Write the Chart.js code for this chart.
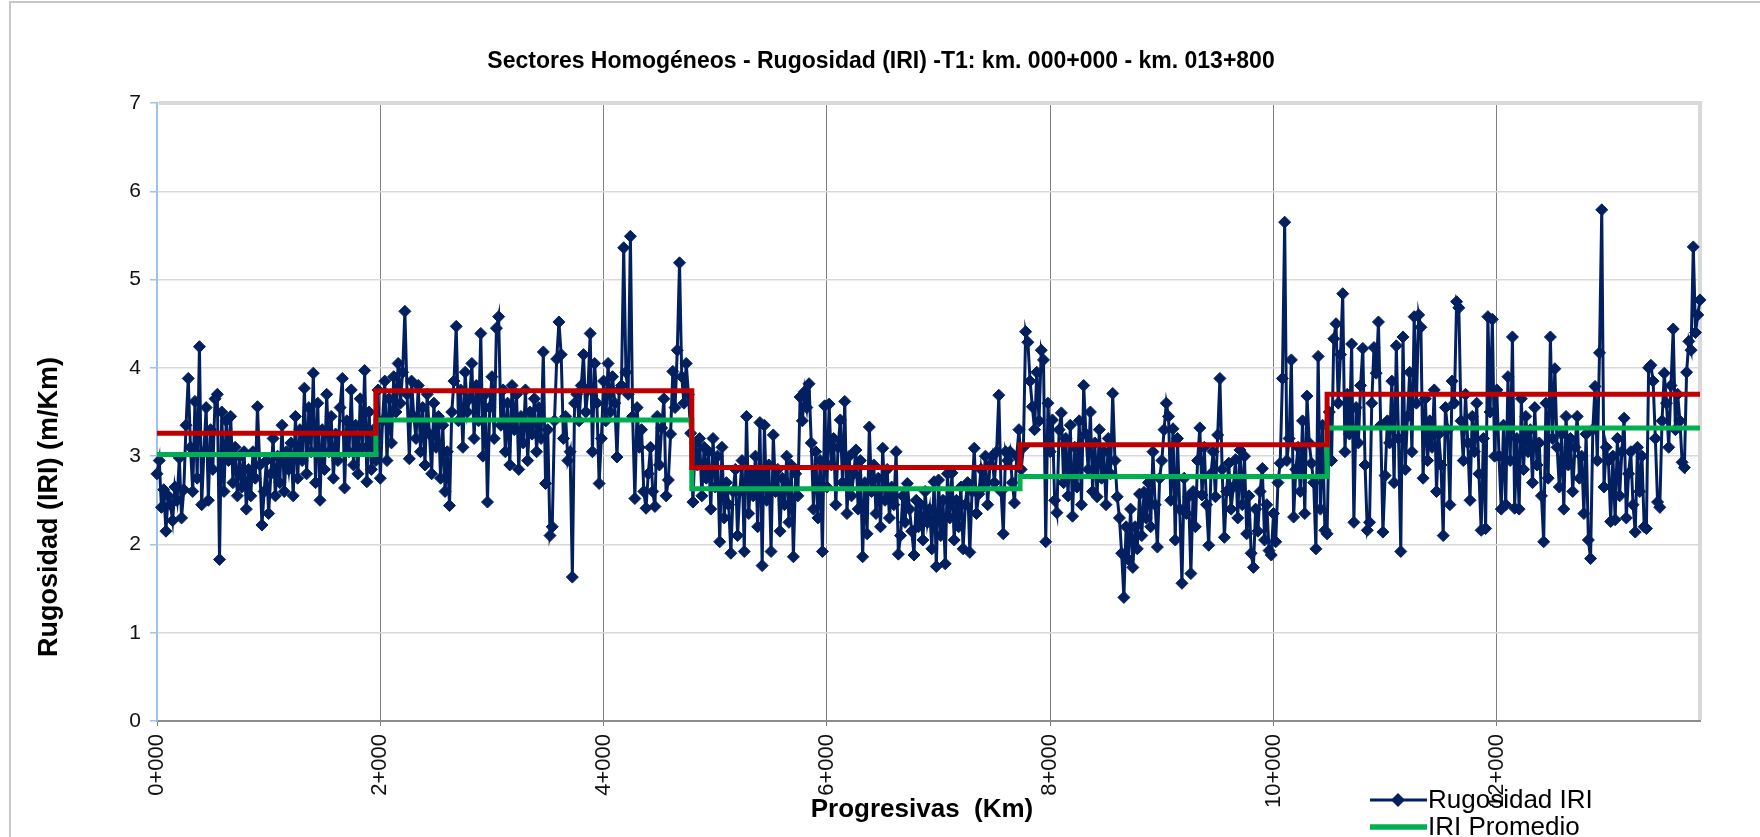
<!DOCTYPE html>
<html>
<head>
<meta charset="utf-8">
<title>Sectores Homogéneos - Rugosidad (IRI)</title>
<script src="https://cdn.jsdelivr.net/npm/chart.js@4.4.1/dist/chart.umd.min.js"></script>
<style>
  html, body { margin: 0; padding: 0; background: #fff; }
  canvas { display: block; }
</style>
</head>
<body>
<canvas id="iriChart" width="1760" height="837"></canvas>
<script>
// Rugosidad IRI (m/Km) cada 20 m, desde km 0+000 hasta 13+820
const iri = [
  2.80, 2.95, 2.42, 2.62, 2.15, 2.55, 2.45, 2.27, 2.65, 2.50,
  2.98, 2.30, 2.62, 3.35, 3.88, 3.10, 2.60, 3.62, 2.75, 4.24,
  2.45, 3.05, 3.55, 2.50, 3.30, 2.85, 3.65, 3.70, 1.83, 3.50,
  2.60, 3.40, 2.95, 3.45, 2.70, 3.10, 2.55, 3.00, 2.65, 3.05,
  2.40, 2.85, 2.55, 3.05, 2.75, 3.56, 2.90, 2.22, 2.60, 2.95,
  2.35, 2.80, 3.20, 2.55, 3.00, 2.70, 3.35, 2.60, 3.05, 2.85,
  3.15, 2.55, 3.45, 2.75, 3.30, 2.95, 3.77, 2.80, 3.55, 3.05,
  3.94, 2.70, 3.60, 2.50, 3.30, 2.85, 3.70, 3.05, 3.45, 2.75,
  3.25, 2.95, 3.55, 3.88, 2.64, 3.40, 3.05, 3.75, 2.90, 3.35,
  2.80, 3.65, 3.10, 3.97, 2.71, 3.50, 2.85, 3.30, 2.95, 3.75,
  2.75, 3.40, 3.85, 2.95, 3.65, 3.15, 3.90, 3.50, 4.05, 3.60,
  3.95, 4.64, 3.70, 2.97, 3.85, 3.45, 3.20, 3.80, 3.05, 3.55,
  2.90, 3.70, 3.25, 2.80, 3.60, 3.10, 3.45, 2.75, 3.35, 2.60,
  3.05, 2.44, 3.50, 3.85, 4.47, 3.40, 3.75, 3.10, 3.95, 3.50,
  3.65, 4.05, 3.20, 3.80, 3.40, 4.39, 3.00, 3.70, 2.48, 3.55,
  3.90, 3.20, 4.45, 4.58, 3.35, 3.75, 3.05, 3.60, 2.90, 3.80,
  3.30, 3.70, 2.85, 3.45, 3.15, 3.75, 2.95, 3.50, 3.25, 3.65,
  3.05, 3.55, 3.20, 4.18, 2.69, 3.30, 2.10, 2.20, 3.40, 4.10,
  4.52, 4.15, 3.20, 3.45, 2.95, 3.05, 1.63, 3.60, 3.70, 3.40,
  3.80, 4.15, 3.50, 3.75, 4.39, 3.05, 4.05, 3.60, 2.69, 3.20,
  3.85, 3.40, 4.05, 3.50, 3.90, 3.60, 2.99, 3.75, 3.80, 5.36,
  3.95, 3.70, 5.49, 3.45, 2.52, 3.55, 3.10, 3.30, 2.60, 2.41,
  2.80, 3.10, 2.60, 2.43, 3.45, 2.90, 3.32, 3.65, 2.55, 2.73,
  3.25, 3.96, 3.55, 4.20, 5.19, 3.90, 3.60, 4.05, 3.70, 3.26,
  2.48, 3.15, 2.90, 3.20, 2.55, 3.10, 2.75, 3.05, 2.40, 3.20,
  2.65, 3.00, 2.03, 3.10, 2.30, 2.70, 2.45, 1.90, 2.60, 2.85,
  2.10, 2.60, 2.95, 1.92, 3.45, 2.35, 2.80, 2.55, 3.00, 2.20,
  3.38, 1.76, 3.35, 2.50, 2.90, 1.92, 3.24, 2.60, 2.85, 2.15,
  2.75, 2.45, 3.00, 2.25, 2.90, 1.86, 2.80, 2.55, 3.67, 3.40,
  3.73, 3.55, 3.82, 3.15, 2.40, 3.05, 2.30, 2.95, 1.92, 3.57,
  2.65, 3.59, 2.90, 3.20, 2.45, 3.10, 3.41, 2.70, 3.62, 2.35,
  3.00, 2.55, 2.80, 3.07, 2.40, 2.95, 1.86, 2.70, 2.12, 3.33,
  2.60, 2.90, 2.35, 2.75, 2.20, 3.09, 2.50, 2.85, 2.30, 2.65,
  2.45, 3.05, 1.89, 2.10, 2.55, 2.25, 2.69, 2.40, 2.15, 1.88,
  2.50, 2.20, 2.45, 2.05, 2.60, 2.25, 2.40, 1.95, 2.71, 1.75,
  2.73, 2.10, 2.50, 1.78, 2.80, 2.30, 2.81, 2.05, 2.50, 2.20,
  2.65, 1.95, 2.45, 2.70, 1.91, 2.60, 3.09, 2.35, 2.57, 2.85,
  2.65, 3.00, 2.45, 2.90, 3.00, 2.70, 3.05, 3.69, 2.60, 2.12,
  3.05, 2.95, 3.05, 2.70, 2.47, 3.00, 3.30, 2.85, 3.10, 4.41,
  4.29, 3.85, 3.56, 3.30, 3.95, 3.40, 4.20, 4.09, 2.03, 3.60,
  3.05, 3.41, 2.50, 2.36, 3.30, 3.49, 2.70, 3.20, 2.55, 3.35,
  2.32, 3.10, 2.65, 3.40, 2.45, 3.80, 3.25, 2.85, 3.50, 2.60,
  3.15, 2.54, 3.30, 2.75, 3.05, 2.45, 3.20, 2.80, 3.71, 2.95,
  2.54, 2.30, 1.90, 1.40, 2.20, 1.83, 2.40, 1.74, 2.20, 1.95,
  2.57, 2.10, 2.59, 2.30, 2.70, 2.20, 3.05, 2.45, 1.97, 2.75,
  2.95, 3.30, 3.60, 3.45, 2.50, 3.31, 2.05, 3.20, 2.40, 1.56,
  2.75, 2.35, 2.54, 1.67, 2.60, 2.20, 2.95, 3.32, 2.56, 3.10,
  2.45, 1.99, 2.80, 3.05, 2.54, 3.24, 3.88, 2.85, 2.08, 2.60,
  2.92, 2.40, 2.65, 2.96, 2.30, 3.07, 2.45, 3.00, 2.12, 2.55,
  1.90, 1.74, 2.40, 2.15, 2.60, 2.86, 2.05, 2.45, 1.93, 1.88,
  2.35, 2.03, 2.70, 2.92, 3.88, 5.65, 2.95, 3.20, 4.09, 2.31,
  2.85, 3.10, 2.60, 3.40, 2.35, 3.68, 3.15, 2.92, 2.70, 1.95,
  4.13, 2.40, 3.35, 2.16, 2.12, 3.50, 2.95, 4.33, 4.50, 3.60,
  4.15, 4.84, 3.05, 3.70, 3.25, 4.27, 2.25, 3.55, 3.15, 3.80,
  4.22, 2.90, 2.16, 2.25, 3.60, 4.23, 3.94, 4.52, 3.35, 2.14,
  2.78, 3.40, 3.15, 3.85, 2.70, 4.25, 3.20, 1.92, 4.35, 2.85,
  3.45, 3.95, 3.05, 4.58, 3.60, 4.60, 4.46, 2.75, 3.65, 2.95,
  3.40, 3.10, 3.75, 2.60, 3.25, 2.90, 2.10, 3.55, 3.30, 2.45,
  3.85, 3.60, 4.75, 4.68, 3.40, 2.95, 3.70, 3.15, 2.50, 3.45,
  3.05, 3.60, 2.80, 2.16, 3.20, 2.18, 4.58, 3.50, 4.55, 3.00,
  3.75, 3.00, 2.40, 3.35, 2.45, 3.90, 2.95, 4.35, 2.41, 3.20,
  2.40, 3.65, 2.85, 3.45, 3.05, 3.30, 2.70, 3.55, 2.90, 3.15,
  2.55, 2.03, 3.60, 2.75, 4.35, 3.20, 3.99, 3.10, 2.65, 3.25,
  2.40, 3.45, 2.90, 3.20, 2.60, 3.10, 3.45, 2.75, 3.00, 2.35,
  3.25, 2.05, 1.84, 3.30, 3.79, 2.95, 4.17, 5.79, 2.65, 3.10,
  2.95, 2.26, 3.00, 2.28, 3.20, 2.55, 3.05, 3.43, 2.30, 2.80,
  3.05, 2.45, 2.14, 3.10, 2.60, 3.00, 2.20, 2.18, 4.00, 4.03,
  3.85, 3.20, 2.48, 2.42, 3.40, 3.94, 3.60, 3.10, 3.80, 4.44,
  3.30, 3.70, 3.40, 2.93, 2.87, 3.95, 4.30, 4.20, 5.37, 4.40,
  4.60, 4.77
];
const pasoKm = 0.02; // una lectura cada 20 m

// Sectores homogeneos (inicio de cada sector en km)
const sectorInicio = [0, 1.96, 4.79, 7.73, 10.48];
const sectorFin = 13.82;
const iriPromedio = [3.02, 3.41, 2.63, 2.77, 3.32];
const iriCaracteristico = [3.26, 3.74, 2.87, 3.13, 3.70];

// Ejes
const xTicksKm = [0, 2, 4, 6, 8, 10, 12];
const yMax = 7;

const FONT = '"Liberation Sans", Arial, sans-serif';
const AZUL = '#022060';

const serieIri = iri.map((v, i) => ({ x: +(i * pasoKm).toFixed(2), y: v }));

function escalones(valores) {
    const pts = sectorInicio.map((x, k) => ({ x: x, y: valores[k] }));
    pts.push({ x: sectorFin, y: valores[valores.length - 1] });
    return pts;
}

function rombo(ctx, x, y, r) {
    ctx.beginPath();
    ctx.moveTo(x, y - r);
    ctx.lineTo(x + r, y);
    ctx.lineTo(x, y + r);
    ctx.lineTo(x - r, y);
    ctx.closePath();
    ctx.fill();
}

// Marco, titulos y leyenda (dibujados a mano para ubicarlos como en Excel)
const marcoYTextos = {
    id: 'marcoYTextos',
    beforeDraw(chart) {
        const { ctx, width, height } = chart;
        ctx.save();
        ctx.fillStyle = '#ffffff';
        ctx.fillRect(0, 0, width, height);
        ctx.strokeStyle = '#c8c8c8';
        ctx.lineWidth = 2;
        ctx.beginPath();
        ctx.moveTo(10, height);
        ctx.lineTo(10, 2);
        ctx.lineTo(width, 2);
        ctx.stroke();
        ctx.restore();
    },
    beforeDatasetsDraw(chart) {
        const { ctx, chartArea: a } = chart;
        ctx.save();
        ctx.strokeStyle = '#d9d9d9';
        ctx.lineWidth = 4;
        ctx.beginPath();
        ctx.moveTo(a.left + 2, a.top);
        ctx.lineTo(a.right, a.top);
        ctx.lineTo(a.right, a.bottom - 1);
        ctx.stroke();
        ctx.restore();
    },
    afterDraw(chart) {
        const ctx = chart.ctx;
        const ds = chart.data.datasets;
        ctx.save();
        ctx.fillStyle = '#000';
        ctx.textBaseline = 'middle';

        // titulo
        ctx.textAlign = 'center';
        ctx.font = 'bold 23px ' + FONT;
        ctx.fillText('Sectores Homogéneos - Rugosidad (IRI) -T1: km. 000+000 - km. 013+800', 881, 62);

        // titulo eje X
        ctx.font = 'bold 26px ' + FONT;
        ctx.fillText('Progresivas  (Km)', 922, 810);

        // titulo eje Y
        ctx.save();
        ctx.translate(50, 507);
        ctx.rotate(-Math.PI / 2);
        ctx.font = 'bold 27px ' + FONT;
        ctx.fillText('Rugosidad (IRI) (m/Km)', 0, 0);
        ctx.restore();

        // leyenda
        ctx.textAlign = 'left';
        ctx.font = '26px ' + FONT;

        ctx.strokeStyle = ds[0].borderColor;
        ctx.lineWidth = 3;
        ctx.beginPath();
        ctx.moveTo(1370, 800);
        ctx.lineTo(1427, 800);
        ctx.stroke();
        ctx.fillStyle = ds[0].borderColor;
        rombo(ctx, 1398, 800, 7);
        ctx.fillStyle = '#000';
        ctx.fillText(ds[0].label, 1428, 801);

        ctx.strokeStyle = ds[1].borderColor;
        ctx.lineWidth = 5.5;
        ctx.beginPath();
        ctx.moveTo(1370, 827);
        ctx.lineTo(1427, 827);
        ctx.stroke();
        ctx.fillText(ds[1].label, 1428, 828);

        ctx.restore();
    }
};

new Chart(document.getElementById('iriChart'), {
    type: 'line',
    data: {
        datasets: [
            {
                label: 'Rugosidad IRI',
                data: serieIri,
                borderColor: AZUL,
                backgroundColor: AZUL,
                borderWidth: 3,
                pointStyle: 'rectRot',
                pointRadius: 6,
                pointBorderWidth: 1,
                pointBackgroundColor: AZUL,
                pointBorderColor: AZUL,
                tension: 0,
                clip: false,
                order: 3
            },
            {
                label: 'IRI Promedio',
                data: escalones(iriPromedio),
                borderColor: '#00b050',
                borderWidth: 5,
                pointRadius: 0,
                stepped: 'before',
                order: 2
            },
            {
                label: 'IRI Característico',
                data: escalones(iriCaracteristico),
                borderColor: '#c00000',
                borderWidth: 5,
                pointRadius: 0,
                stepped: 'before',
                order: 1
            }
        ]
    },
    options: {
        responsive: false,
        animation: false,
        events: [],
        layout: { padding: { top: 103, right: 60, bottom: 0, left: 0 } },
        plugins: {
            legend: { display: false },
            title: { display: false },
            tooltip: { enabled: false }
        },
        scales: {
            x: {
                type: 'linear',
                min: 0,
                max: sectorFin,
                afterBuildTicks: (s) => { s.ticks = xTicksKm.map(v => ({ value: v })); },
                afterFit: (s) => { s.height = 116; },
                ticks: {
                    autoSkip: false,
                    minRotation: 90,
                    maxRotation: 90,
                    padding: 8,
                    color: '#111',
                    font: { family: FONT, size: 22 },
                    callback: (v) => v + '+000'
                },
                grid: { color: '#808080', lineWidth: 1, tickLength: 5, tickColor: '#808080' },
                border: { color: '#8c8c8c', width: 2 }
            },
            y: {
                min: 0,
                max: yMax,
                afterFit: (s) => { s.width = 157; },
                ticks: {
                    stepSize: 1,
                    padding: 9,
                    color: '#111',
                    font: { family: FONT, size: 21 }
                },
                grid: { color: '#d9d9d9', lineWidth: 1.5, tickLength: 7, tickColor: '#9dc3e6' },
                border: { color: '#9dc3e6', width: 2 }
            }
        }
    },
    plugins: [marcoYTextos]
});
</script>
</body>
</html>
